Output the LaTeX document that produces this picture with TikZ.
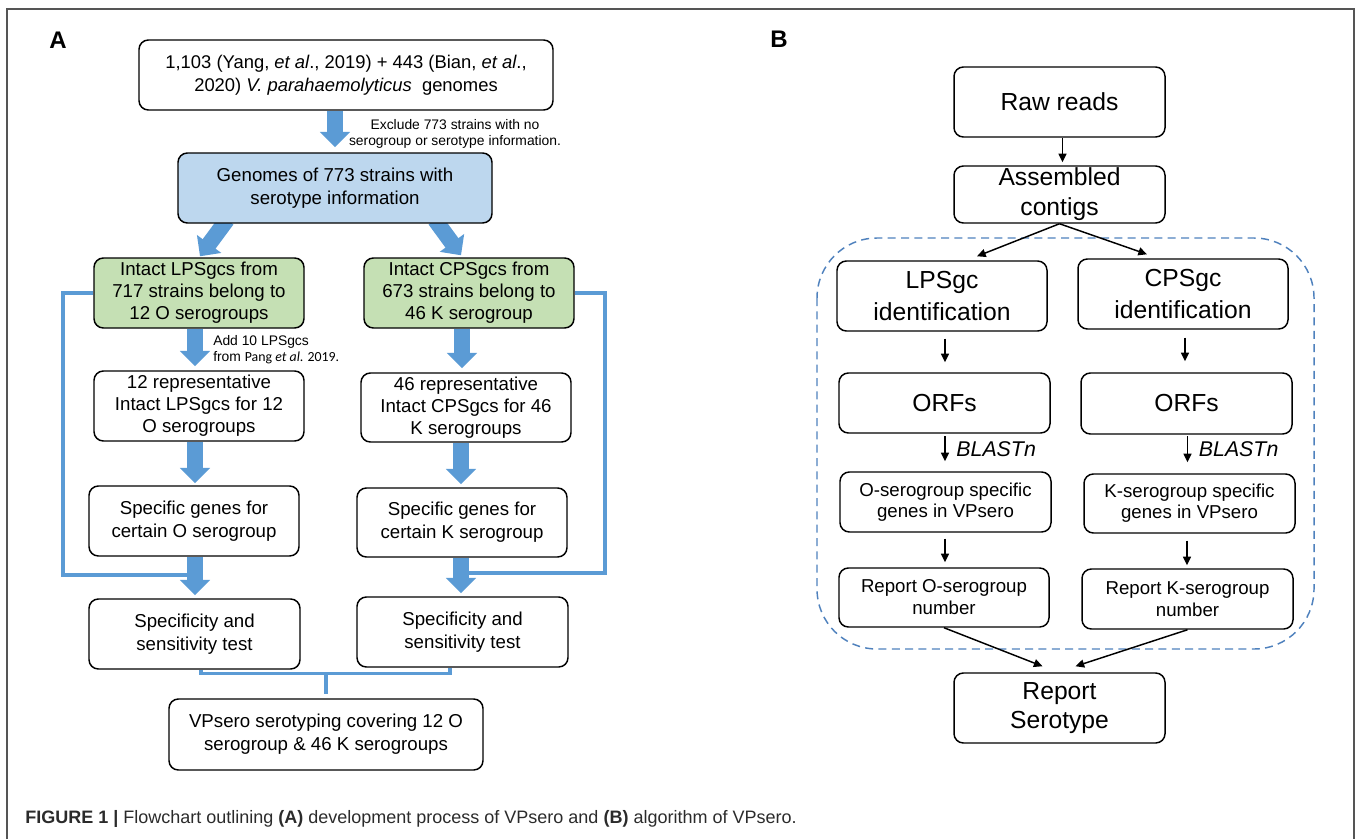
\documentclass[tikz,border=0pt]{standalone}
\usepackage{fontspec}
\setmainfont{Liberation Sans}
\newfontfamily\calib{Carlito}
\newfontfamily\capfont{Liberation Sans}
\usetikzlibrary{arrows.meta,calc}
\pgfdeclarelayer{bg}
\pgfsetlayers{bg,main}
\definecolor{ablue}{HTML}{5B9BD5}
\definecolor{boxblue}{HTML}{BDD7EE}
\definecolor{boxgreen}{HTML}{C5E0B4}
\definecolor{dashblue}{HTML}{4F81BD}
\definecolor{framegray}{HTML}{555555}
\definecolor{captext}{HTML}{2B2B2B}
\newcommand{\fs}[2]{\fontsize{#1pt}{#2pt}\selectfont}
\newcommand{\pbox}[7]{\node[#6, minimum width={(#4-#2)*0.75pt}, minimum height={(#5-#3)*0.75pt}] (#1) at ({(#2+#4)/2},{(#3+#5)/2}) {#7};}
\begin{document}
\begin{tikzpicture}[x=0.75pt,y=-0.75pt,
  box/.style={draw=black, line width=1.1pt, rounded corners=7pt, align=center, inner sep=0pt, text=black},
  fa/.style={font=\fs{14}{17.25}},
  fg/.style={font=\fs{14}{16.5}},
  fbig/.style={font=\fs{18.5}{22.5}},
  barrow/.style={draw=ablue, line width=12pt, -{Triangle[width=22pt,length=11.5pt]}},
  bline/.style={draw=ablue, line width=3pt},
  sarrow/.style={draw=black, line width=1.1pt, -{Triangle[width=6pt,length=6.5pt]}},
  note/.style={inner sep=0pt, font=\fs{10.4}{12}},
  lbl/.style={inner sep=0pt, font=\bfseries\fs{18}{20}}]
\useasboundingbox (0,0) rectangle (1358,839);
\draw[framegray, line width=1.3pt] (7,839) -- (7,9) -- (1354,9) -- (1354,839);

\node[lbl] (labA) at (58,40) {A};
\node[lbl] (labB) at (779,39) {B};

% ---------- Panel A ----------
\pbox{b1}{139}{40}{553}{110}{box, font=\fs{13.8}{17.25}}{1,103 (Yang, \textit{et al}., 2019) + 443 (Bian, \textit{et al}.,\\ 2020) \textit{V. parahaemolyticus}\ \ genomes}
\pbox{b2}{178}{153}{492}{223}{box, fill=boxblue, fa}{Genomes of 773 strains with\\ serotype information}
\pbox{b3}{94}{258}{304}{328}{box, fill=boxgreen, fg}{Intact LPSgcs from\\ 717 strains belong to\\ 12 O serogroups}
\pbox{b4}{364}{258}{574}{328}{box, fill=boxgreen, fg}{Intact CPSgcs from\\ 673 strains belong to\\ 46 K serogroup}
\pbox{b5}{94}{371}{304}{441}{box, fill=white, fg}{12 representative\\ Intact LPSgcs for 12\\ O serogroups}
\pbox{b6}{361}{373}{571}{442}{box, fill=white, fg}{46 representative\\ Intact CPSgcs for 46\\ K serogroups}
\pbox{b7}{89}{486}{299}{556}{box, fill=white, fa}{Specific genes for\\ certain O serogroup}
\pbox{b8}{357}{488}{567}{557}{box, fill=white, fa}{Specific genes for\\ certain K serogroup}
\pbox{b9}{89}{599}{300}{669}{box, fill=white, fa}{Specificity and\\ sensitivity test}
\pbox{b10}{357}{597}{568}{667}{box, fill=white, fa}{Specificity and\\ sensitivity test}
\pbox{b11}{169}{699}{483}{770}{box, fill=white, fa}{VPsero serotyping covering 12 O\\ serogroup \& 46 K serogroups}

\node[note, align=center] (n1) at (455,134) {Exclude 773 strains with no\\ serogroup or serotype information.};
\node[note, align=left, anchor=west] (n2) at (213,350) {Add 10 LPSgcs\\ from {\calib Pang \textit{et al}. 2019.}};

\coordinate (cl1) at (63,575);
\coordinate (cl2) at (189,575);
\coordinate (cr1) at (605,573);
\coordinate (cr2) at (467,573);

\begin{pgfonlayer}{bg}
\draw[barrow, shorten >=3.75pt] (b1.south -| b2.north) -- (b2.north);
\draw[barrow] ($(b2.south)+(-108,-4)$) -- ($(b3.north)+(1,-1)$);
\draw[barrow] ($(b2.south)+(100,-4)$) -- ($(b4.north)+(-8,-2)$);
\draw[barrow] ($(b3.south)+(-4,0)$) -- ($(b5.north)+(-4,-4)$);
\draw[barrow] ($(b4.south)+(-7,0)$) -- ($(b6.north)+(-4,-4)$);
\draw[barrow] ($(b5.south)+(-4,0)$) -- ($(b7.north)+(1,-2)$);
\draw[barrow] ($(b6.south)+(-5,0)$) -- ($(b8.north)+(-1,-3)$);
\draw[barrow] ($(b7.south)+(1,0)$) -- ($(b9.north)+(0.5,-3)$);
\draw[barrow] ($(b8.south)+(-1,0)$) -- ($(b10.north)+(-1.5,-3)$);
\draw[bline] (b3.west) -| (cl1) -- (cl2);
\draw[bline] (b4.east) -| (cr1) -- (cr2);
\draw[bline, line width=2.6pt] ($(b9.south)+(6.5,0)$) |- ($(b10.south)+(-12.5,6)$) -- ($(b10.south)+(-12.5,0)$);
\draw[bline, line width=2.6pt] ($(b11.north)+(0,-26)$) -- ($(b11.north)+(0,-4)$);
% dashed frame of panel B
\draw[dashblue, line width=1.1pt, dash pattern=on 6pt off 4pt, rounded corners=45pt] (817,238) rectangle (1314,649);
\end{pgfonlayer}

% ---------- Panel B ----------
\pbox{raw}{954}{67}{1165}{137}{box, fbig}{Raw reads}
\pbox{asm}{954}{166}{1165}{223}{box, fbig}{Assembled\\ contigs}
\pbox{lps}{837}{261}{1047}{331}{box, font=\fs{18.5}{24}}{LPSgc\\ identification}
\pbox{cps}{1078}{259}{1288}{329}{box, font=\fs{18.5}{24}}{CPSgc\\ identification}
\pbox{orfL}{839}{373}{1050}{433}{box, fbig}{ORFs}
\pbox{orfR}{1081}{373}{1292}{434}{box, fbig}{ORFs}
\pbox{osp}{840}{472}{1051}{532}{box, font=\fs{14}{15.75}}{O-serogroup specific\\ genes in VPsero}
\pbox{ksp}{1084}{474}{1295}{533}{box, font=\fs{14}{15.75}}{K-serogroup specific\\ genes in VPsero}
\pbox{repO}{839}{568}{1049}{627}{box, font=\fs{14}{16.5}}{Report O-serogroup\\ number}
\pbox{repK}{1082}{569}{1293}{629}{box, font=\fs{14}{16.5}}{Report K-serogroup\\ number}
\pbox{ser}{954}{673}{1165}{743}{box, font=\fs{18.5}{21.75}}{Report\\ Serotype}

\draw[sarrow] ($(raw.south)+(3,0)$) -- ($(asm.north)+(3,-3)$);
\draw[sarrow] (asm.south) -- ($(lps.north)+(35,-4)$);
\draw[sarrow] (asm.south) -- ($(cps.north)+(-36,-4)$);
\draw[sarrow] ($(lps.south)+(3,7)$) -- ($(orfL.north)+(0.5,-10)$);
\draw[sarrow] ($(cps.south)+(2,8)$) -- ($(orfR.north)+(-1.5,-11)$);
\draw[sarrow] ($(osp.north)+(-0.5,-35)$) -- node[inner sep=0pt, anchor=west, xshift=8pt, font=\itshape\fs{16}{18}] (bl1) {BLASTn} ($(osp.north)+(-0.5,-10)$);
\draw[sarrow] ($(ksp.north)+(-2,-37)$) -- node[inner sep=0pt, anchor=west, xshift=8pt, font=\itshape\fs{16}{18}] (bl2) {BLASTn} ($(ksp.north)+(-2,-11)$);
\draw[sarrow] ($(osp.south)+(-0.5,6)$) -- ($(repO.north)+(1,-5)$);
\draw[sarrow] ($(ksp.south)+(-2.5,7)$) -- ($(repK.north)+(-0.5,-3)$);
\draw[sarrow] (repO.south) -- ($(ser.north)+(-17,-6)$);
\draw[sarrow] (repK.south) -- ($(ser.north)+(16,-6)$);

\node[anchor=west, inner sep=0pt, text=captext, font=\capfont\fs{13.5}{16}] (cap) at (25,819) {\textbf{FIGURE 1} \textbf{|} Flowchart outlining \textbf{(A)} development process of VPsero and \textbf{(B)} algorithm of VPsero.};
\end{tikzpicture}
\end{document}
